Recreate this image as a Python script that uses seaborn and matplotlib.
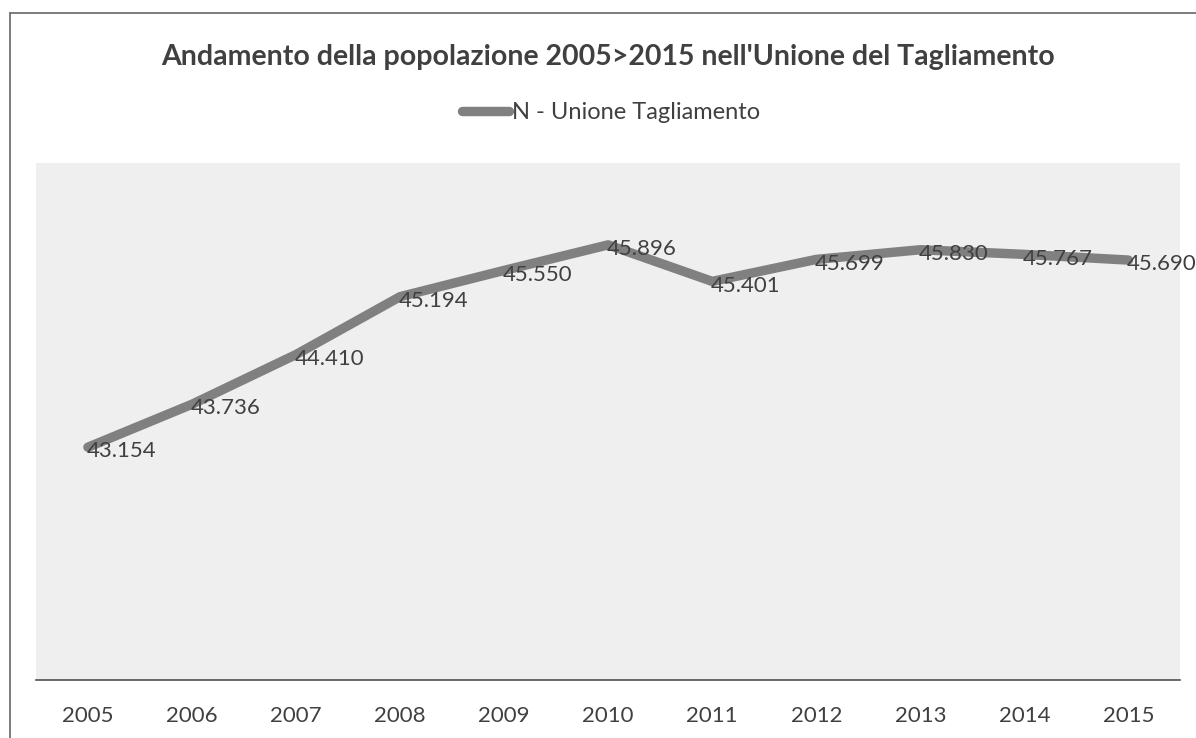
import pandas as pd
import matplotlib.pyplot as plt
import matplotlib.lines as mlines
import seaborn as sns

# dati
anni = ['2005', '2006', '2007', '2008', '2009', '2010', '2011', '2012', '2013', '2014', '2015']
popolazione = [43154, 43736, 44410, 45194, 45550, 45896, 45401, 45699, 45830, 45767, 45690]
etichette = ['43.154', '43.736', '44.410', '45.194', '45.550', '45.896', '45.401', '45.699', '45.830', '45.767', '45.690']
serie = 'N - Unione Tagliamento'
titolo = "Andamento della popolazione 2005>2015 nell'Unione del Tagliamento"

df = pd.DataFrame({'anno': anni, 'N': popolazione})

sns.set_style('white')
plt.rcParams['font.family'] = ['Lato', 'DejaVu Sans']

fig = plt.figure(figsize=(11.96, 7.38), dpi=100)
ax = fig.add_axes([0.030, 0.0786, 0.957, 0.700])
ax.set_facecolor('#efefef')

sns.lineplot(data=df, x='anno', y='N', ax=ax, color='#808080', linewidth=6.8,
             solid_joinstyle='round', solid_capstyle='round', sort=False)

for i, (v, t) in enumerate(zip(popolazione, etichette)):
    ax.annotate(t, (i, v), xytext=(-1, -3), textcoords='offset points',
                ha='left', va='center', fontsize=16, color='#404040')

ax.set_xlim(-0.5, len(anni) - 0.5)
ax.set_ylim(40000, 47000)
ax.set_yticks([])
ax.set_xlabel('')
ax.set_ylabel('')
ax.tick_params(axis='x', length=0, pad=19, labelsize=16, labelcolor='#404040')
for s in ['top', 'right', 'left']:
    ax.spines[s].set_visible(False)
ax.spines['bottom'].set_color('#505050')
ax.spines['bottom'].set_linewidth(1.2)

fig.text(0.508, 0.923, titolo, ha='center', va='center', fontsize=20.5,
         fontweight='bold', color='#404040')

# legenda
h = mlines.Line2D([], [], color='#808080', linewidth=6.8, solid_capstyle='round')
fig.legend([h], [serie], loc='center', bbox_to_anchor=(0.511, 0.847), frameon=False,
           fontsize=17, handlelength=2.0, handletextpad=0.15, labelcolor='#404040')

# cornice della scansione
fig.add_artist(mlines.Line2D([0.0085, 0.0085], [0.0, 0.982], color='#666666', linewidth=1.2))
fig.add_artist(mlines.Line2D([0.0085, 1.0], [0.982, 0.982], color='#666666', linewidth=1.2))

fig.savefig('out.png', dpi=100, facecolor='white')
